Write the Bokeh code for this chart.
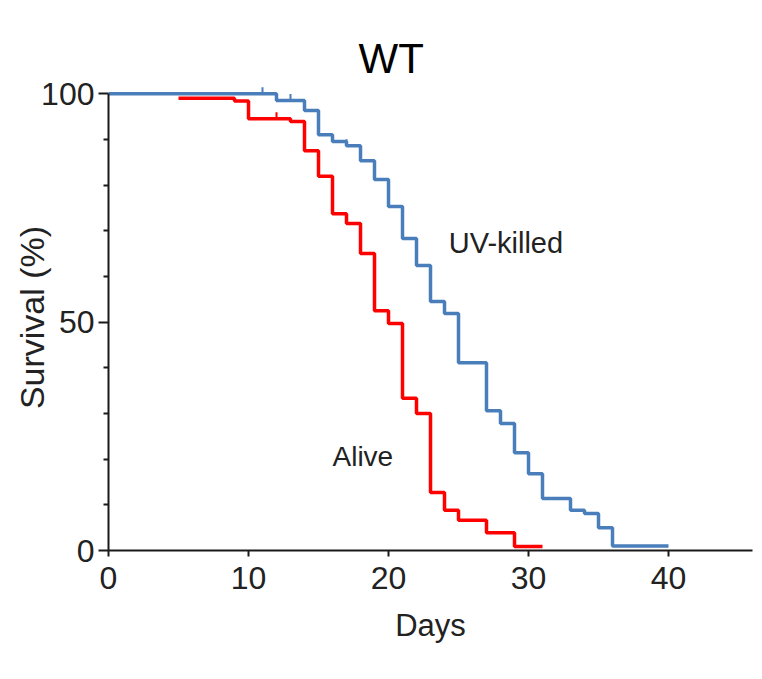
from bokeh.plotting import figure
from bokeh.models import Range1d, FixedTicker, Title
from bokeh.core.properties import value
from bokeh.embed import file_html
from bokeh.resources import INLINE

# Kaplan-Meier survival data
uv_days = [0, 12, 14, 15, 16, 17, 18, 19, 20, 21, 22, 23, 24, 25, 27, 28, 29, 30, 31, 33, 34, 35, 36, 40]
uv_surv = [100, 98.5, 96.3, 91.0, 89.5, 88.6, 85.3, 81.2, 75.3, 68.3, 62.4, 54.5, 51.9, 41.1, 30.6, 27.8, 21.4, 16.8, 11.4, 8.8, 8.1, 5.0, 1.0, 1.0]
uv_cens_days = [11, 13, 17]
uv_cens_surv = [100, 98.5, 88.6]

alive_days = [5, 9, 10, 13, 14, 15, 16, 17, 18, 19, 20, 21, 22, 23, 24, 25, 27, 29, 31]
alive_surv = [99.0, 98.4, 94.5, 93.9, 87.5, 81.9, 73.7, 71.6, 65.0, 52.5, 49.7, 33.3, 30.0, 12.7, 8.8, 6.6, 3.9, 0.9, 0.9]
alive_cens_days = [12]
alive_cens_surv = [94.5]

x_ticks = [0, 10, 20, 30, 40]
y_ticks = [0, 50, 100]
y_minor = [10, 20, 30, 40, 60, 70, 80, 90]

FONT = "Liberation Sans"
BLUE = "#4a7ebb"
RED = "#ff0000"
AX = "#1a1a1a"

p = figure(width=758, height=671, output_backend="svg", toolbar_location=None,
           x_range=Range1d(0, 46), y_range=Range1d(0, 102),
           min_border_left=108, min_border_right=6, min_border_top=84, min_border_bottom=121)
p.outline_line_color = None
p.grid.visible = False

t = Title(text="WT", align="left", offset=250, text_font=FONT, text_font_size="42px",
          text_font_style="normal", text_color="#000000", standoff=5)
p.add_layout(t, "above")

p.step(uv_days, uv_surv, mode="after", line_color=BLUE, line_width=3.5)
p.step(alive_days, alive_surv, mode="after", line_color=RED, line_width=3.5)
p.segment(x0=uv_cens_days, y0=uv_cens_surv, x1=uv_cens_days, y1=[v + 1.4 for v in uv_cens_surv],
          line_color=BLUE, line_width=2)
p.segment(x0=alive_cens_days, y0=alive_cens_surv, x1=alive_cens_days, y1=[v + 1.4 for v in alive_cens_surv],
          line_color=RED, line_width=2)

p.text(x=[24.3], y=[67.2], text=["UV-killed"], text_font=value(FONT), text_font_size="29px",
       text_color="#222222", text_baseline="alphabetic", text_align="left")
p.text(x=[16.0], y=[20.6], text=["Alive"], text_font=value(FONT), text_font_size="28px",
       text_color="#222222", text_baseline="alphabetic", text_align="left")

xa = p.xaxis[0]
xa.ticker = FixedTicker(ticks=x_ticks)
xa.bounds = (0, 46)
xa.axis_label = "Days"
ya = p.yaxis[0]
ya.ticker = FixedTicker(ticks=y_ticks, minor_ticks=y_minor)
ya.bounds = (0, 100)
ya.axis_label = "Survival (%)"

for ax in (xa, ya):
    ax.axis_line_color = AX
    ax.axis_line_width = 2
    ax.major_tick_line_color = AX
    ax.major_tick_line_width = 2
    ax.minor_tick_line_color = AX
    ax.minor_tick_line_width = 2
    ax.major_tick_in = 0
    ax.minor_tick_in = 0
    ax.major_label_text_font = FONT
    ax.major_label_text_font_size = "32px"
    ax.major_label_text_color = "#222222"
    ax.axis_label_text_font = FONT
    ax.axis_label_text_font_size = "31px"
    ax.axis_label_text_font_style = "normal"
    ax.axis_label_text_color = "#222222"

xa.major_tick_out = 6
xa.minor_tick_out = 0
xa.major_label_standoff = 10
xa.axis_label_standoff = 16
ya.major_tick_out = 10
ya.minor_tick_out = 5
ya.major_label_standoff = 4
ya.axis_label_standoff = -13
ya.axis_label_text_font_size = "34px"

open("out.html", "w").write(file_html(p, INLINE))
